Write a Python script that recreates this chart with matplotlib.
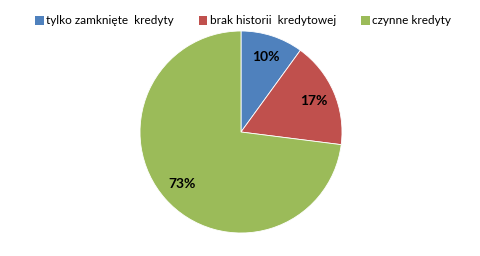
import matplotlib
matplotlib.use("Agg")
import matplotlib.pyplot as plt
from matplotlib.patches import Patch

labels = ["tylko zamknięte  kredyty", "brak historii  kredytowej", "czynne kredyty"]
values = [10, 17, 73]
colors = ["#4F81BD", "#C0504D", "#9BBB59"]

plt.rcParams["font.family"] = ["Lato", "DejaVu Sans"]

fig = plt.figure(figsize=(4.81, 2.56), dpi=100)
cx, cy, r = 241 / 481, (256 - 132) / 256, 101
ax = fig.add_axes([cx - r / 481, cy - r / 256, 2 * r / 481, 2 * r / 256])

wedges, texts, autotexts = ax.pie(
    values, colors=colors, startangle=90, counterclock=False,
    autopct="%d%%", pctdistance=0.78,
    wedgeprops=dict(edgecolor="white", linewidth=0.6),
    textprops=dict(fontsize=10, fontweight="bold", color="black"))
ax.set_xlim(-1, 1)
ax.set_ylim(-1, 1)
ax.set_aspect("auto")

handles = [Patch(facecolor=c, edgecolor="none") for c in colors]
fig.legend(handles, labels, loc="center", bbox_to_anchor=(0.505, 1 - 21 / 256),
           ncol=3, frameon=False, fontsize=8.5, handlelength=0.75, handleheight=0.75,
           handletextpad=0.2, columnspacing=2.1, borderpad=0)

fig.savefig("out.png", dpi=100)
